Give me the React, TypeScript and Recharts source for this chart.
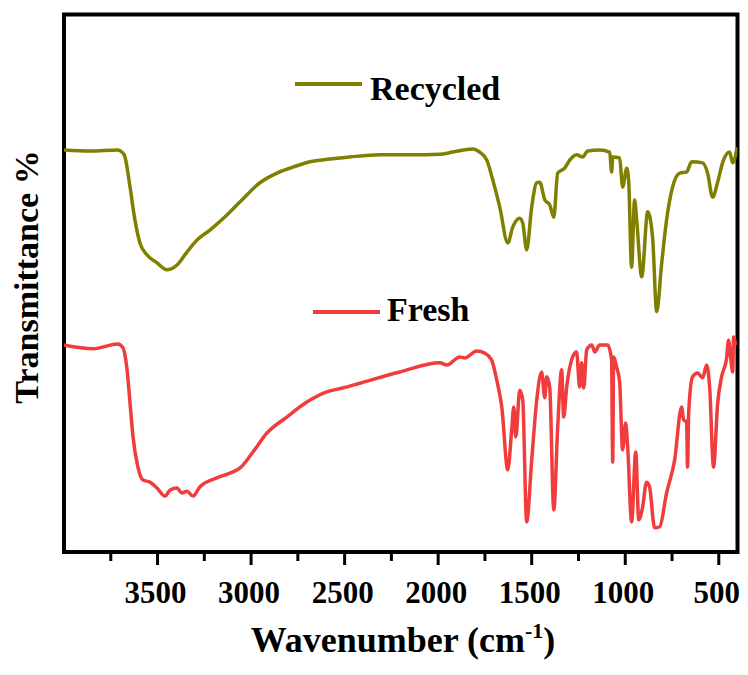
import { LineChart, Line, XAxis, YAxis, ReferenceArea } from "recharts";

// FTIR spectra, wavenumber (cm-1) vs transmittance (arbitrary offset %)
const recycledWn = [4000,3861,3712,3690,3674,3647,3621,3594,3557,3503,3450,3396,3343,3290,3220,3129,3060,2953,2862,2777,2686,2579,2472,2312,2152,1991,1922,1815,1778,1740,1708,1671,1628,1601,1564,1548,1527,1500,1473,1457,1430,1404,1382,1361,1324,1297,1260,1227,1201,1137,1083,1073,1067,1030,1014,992,982,966,950,939,912,880,854,832,805,779,747,709,672,645,586,560,533,506,480,442,426,402];
const recycledT = [74.8,74.6,74.8,74.4,73.5,67.9,61.8,57.5,55.3,53.8,52.5,53.4,55.8,58.0,59.9,62.7,65.1,68.7,70.5,71.6,72.6,73.1,73.5,73.9,73.9,74.0,74.4,75.0,74.4,72.9,69.2,64.2,57.5,60.5,62.1,61.2,56.2,64.2,68.7,68.8,65.5,64.6,62.3,70.5,71.4,72.9,73.9,73.5,74.6,74.8,74.4,70.7,73.5,73.3,67.9,71.4,69.2,53.0,65.5,61.8,51.2,63.3,58.6,44.7,53.8,61.8,67.9,70.5,70.7,72.6,72.4,70.5,66.0,68.8,72.4,74.4,72.4,75.3];

const freshWn = [4000,3845,3712,3685,3663,3647,3631,3605,3578,3541,3503,3460,3434,3396,3370,3343,3311,3274,3183,3097,3060,2990,2916,2809,2702,2595,2510,2419,2205,1991,1954,1885,1858,1794,1751,1714,1687,1660,1628,1607,1596,1585,1564,1548,1527,1500,1473,1447,1430,1420,1404,1382,1361,1340,1329,1313,1281,1260,1244,1233,1222,1206,1179,1163,1137,1094,1073,1067,1062,1046,1030,1014,998,987,966,944,928,907,886,870,843,816,779,736,699,688,672,667,661,640,613,586,565,549,528,506,485,458,448,437,426,421,410];
const freshT = [38.5,37.8,38.7,38.0,33.9,27.7,21.4,15.8,13.4,13.0,11.9,10.4,11.5,11.9,11.0,11.3,10.4,12.1,13.8,14.9,15.6,18.6,22.1,25.1,27.9,29.8,30.5,31.4,33.5,35.2,34.8,36.3,36.1,37.4,37.0,35.7,32.0,27.0,15.3,22.7,27.0,21.4,30.1,28.3,5.6,17.1,28.3,33.5,28.7,32.6,30.7,7.8,23.3,33.9,25.1,30.7,36.3,37.2,30.7,35.2,30.5,37.6,38.5,37.2,38.5,38.5,35.7,16.7,36.3,34.4,31.6,19.0,24.0,19.5,5.6,18.6,6.0,8.4,13.0,12.1,4.5,4.7,11.0,17.1,27.0,24.6,24.2,15.8,25.9,32.6,33.3,32.4,34.8,30.7,15.8,27.7,32.6,36.1,39.4,36.3,33.5,40.0,38.5];

const xTicks = [3750,3500,3250,3000,2750,2500,2250,2000,1750,1500,1250,1000,750,500];
const seriesNames = ["Recycled", "Fresh"];
const seriesColors = ["#808000", "#f03c3c"];

const recycled = recycledWn.map((wn, i) => ({ wn, t: recycledT[i] }));
const fresh = freshWn.map((wn, i) => ({ wn, t: freshT[i] }));

const FONT = "'Liberation Serif', 'Times New Roman', serif";

const XTick = (props: any) => {
  const { x, y, payload } = props;
  const major = payload.value % 500 === 0;
  return (
    <g>
      <line x1={x} x2={x} y1={y} y2={y + (major ? 13 : 9)} stroke="#000" strokeWidth={3} />
      {major && (
        <text x={x - 2} y={y + 51} textAnchor="middle" fontSize={31} fontWeight="bold" fontFamily={FONT} fill="#000">
          {payload.value}
        </text>
      )}
    </g>
  );
};

export default function App() {
  return (
    <div style={{ position: "absolute", left: 0, top: 0, background: "#fff" }}>
      <LineChart width={748} height={675} margin={{ top: 14.5, right: 10.5, left: 0, bottom: 0 }}>
        <XAxis
          dataKey="wn"
          type="number"
          domain={[400, 4000]}
          reversed
          ticks={xTicks}
          interval={0}
          tick={<XTick />}
          tickLine={false}
          axisLine={false}
          tickSize={0}
          tickMargin={0}
          height={123}
          allowDataOverflow
        />
        <YAxis type="number" domain={[0, 100]} width={64} tick={false} tickLine={false} axisLine={false} allowDataOverflow />
        <ReferenceArea x1={4000} x2={400} y1={0} y2={100} fill="none" stroke="#000" strokeWidth={4} ifOverflow="visible" />
        <Line data={recycled} dataKey="t" name={seriesNames[0]} type="monotone" stroke={seriesColors[0]} strokeWidth={3.5} dot={false} isAnimationActive={false} />
        <Line data={fresh} dataKey="t" name={seriesNames[1]} type="monotone" stroke={seriesColors[1]} strokeWidth={3.5} dot={false} isAnimationActive={false} />

        {/* legends placed next to each trace */}
        <g>
          <line x1={295} x2={362} y1={84} y2={84} stroke={seriesColors[0]} strokeWidth={4} />
          <text x={370} y={100} fontSize={34} fontWeight="bold" fontFamily={FONT} fill="#000">{seriesNames[0]}</text>
          <line x1={313} x2={380} y1={312} y2={312} stroke={seriesColors[1]} strokeWidth={4} />
          <text x={387} y={321} fontSize={34} fontWeight="bold" fontFamily={FONT} fill="#000">{seriesNames[1]}</text>
        </g>

        {/* axis titles */}
        <text x={403} y={652} textAnchor="middle" fontSize={36} fontWeight="bold" fontFamily={FONT} fill="#000">
          <tspan>Wavenumber (cm</tspan>
          <tspan dy={-14} fontSize={22}>-1</tspan>
          <tspan dy={14}>)</tspan>
        </text>
        <text
          x={26}
          y={277}
          textAnchor="middle"
          dominantBaseline="central"
          transform="rotate(-90, 26, 277)"
          fontSize={34}
          fontWeight="bold"
          fontFamily={FONT}
          fill="#000"
        >
          Transmittance %
        </text>
      </LineChart>
    </div>
  );
}
